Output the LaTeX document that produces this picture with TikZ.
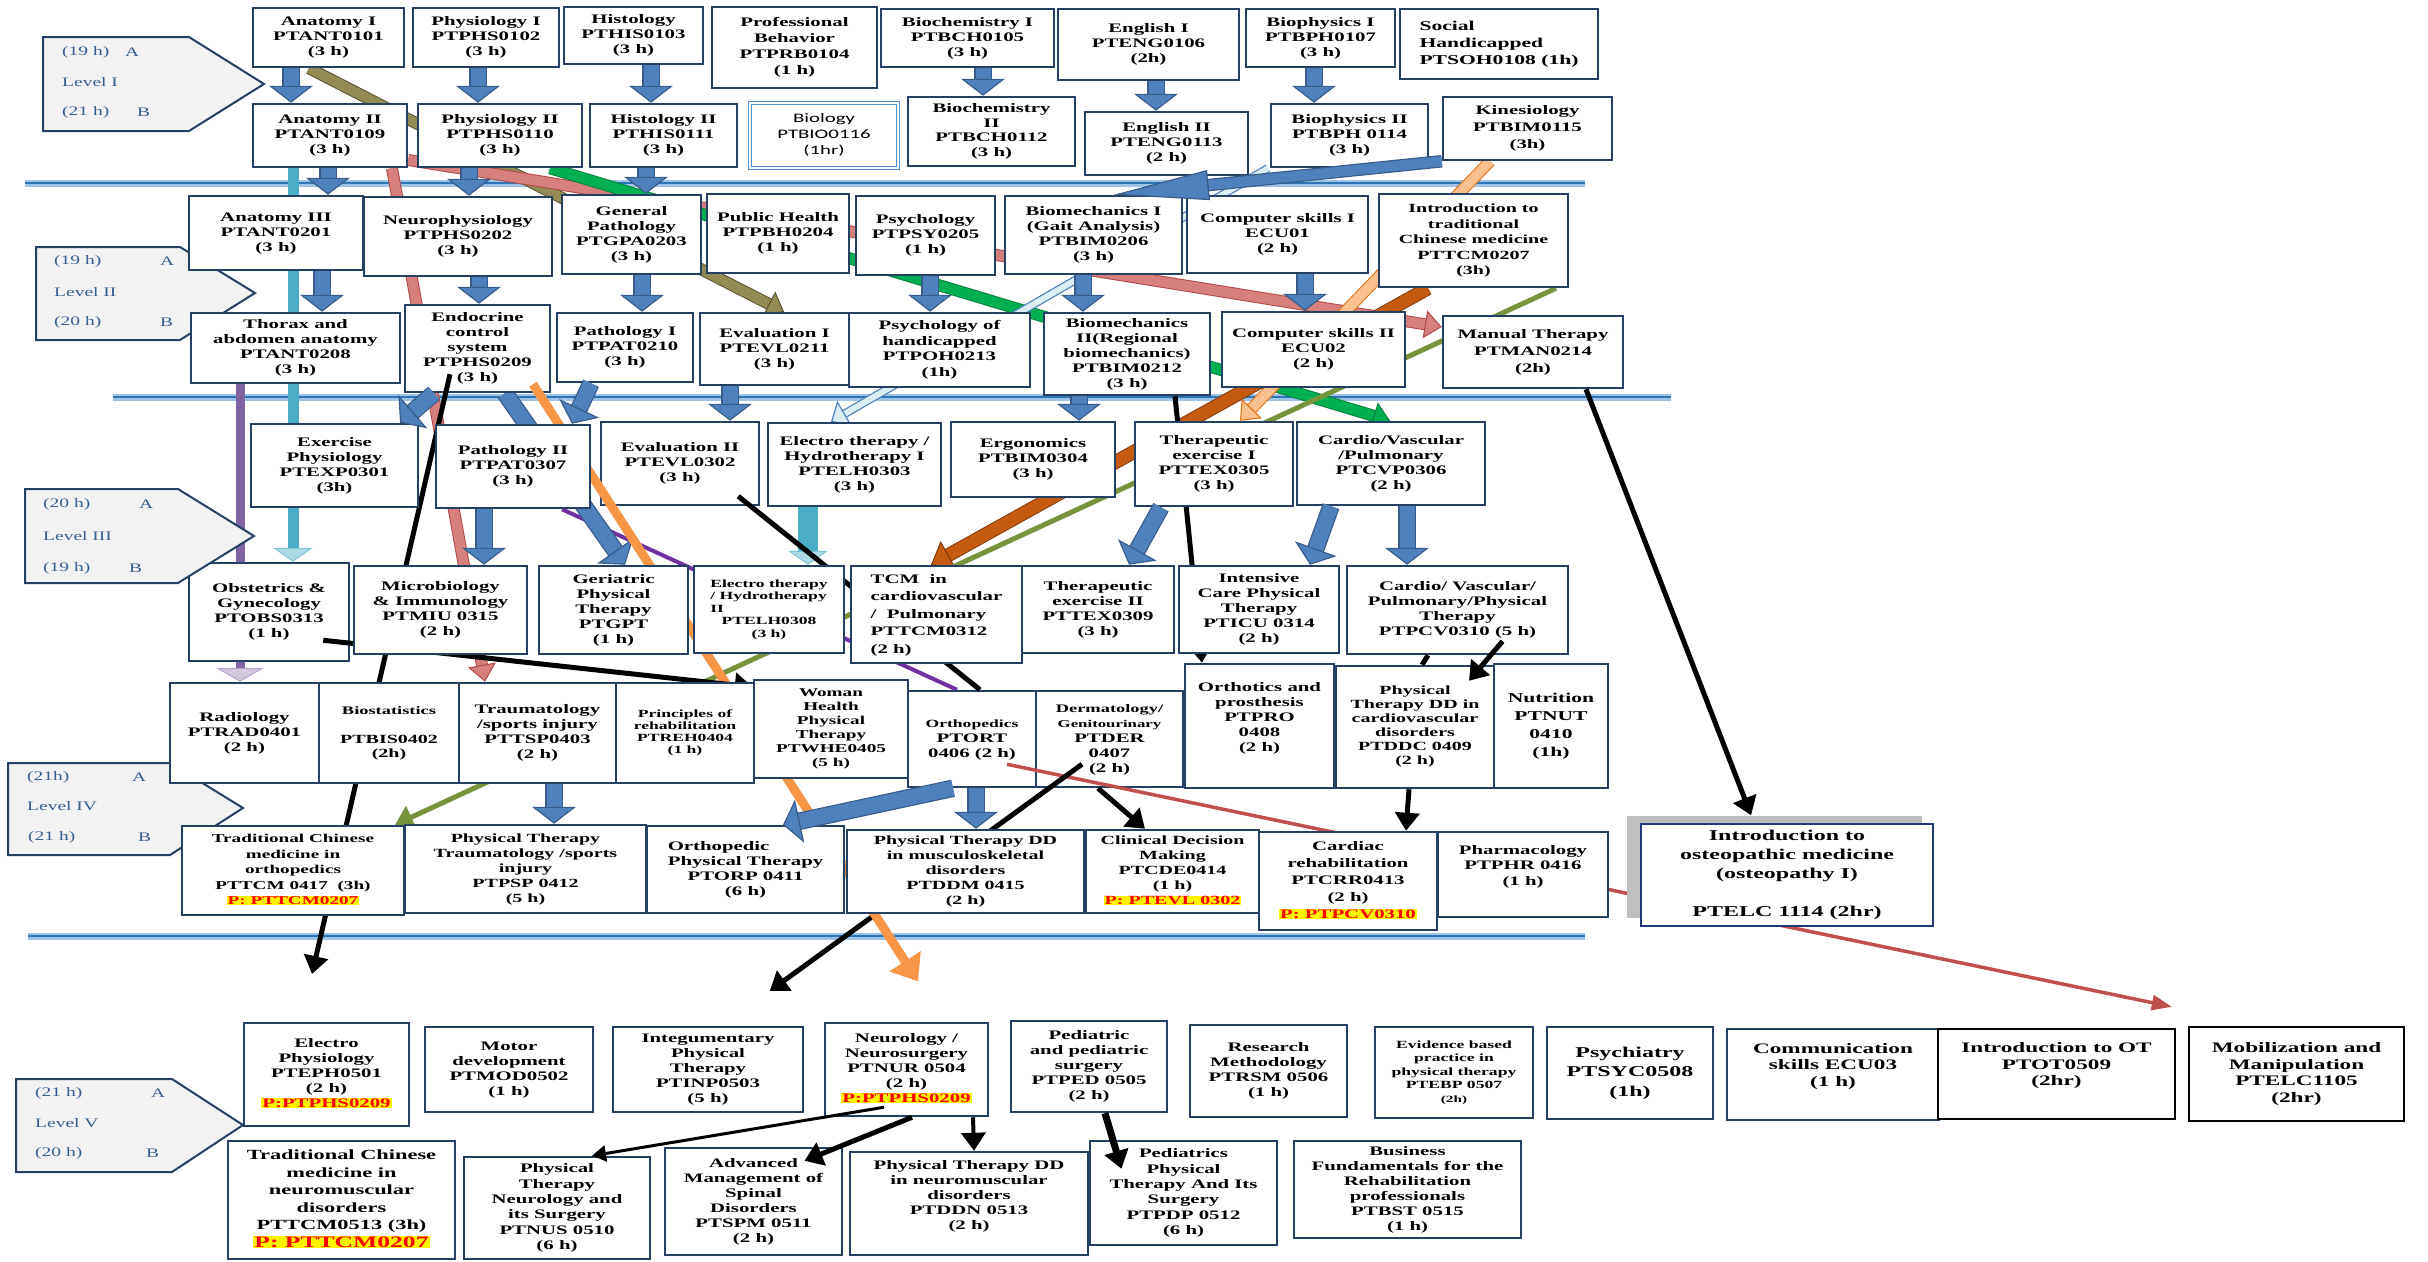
\documentclass[tikz,border=0pt]{standalone}
\usepackage{fontspec}
\setmainfont{Liberation Serif}
\newfontfamily\calibrifont{Carlito}
\usepackage{graphicx}
\usepackage{xcolor}
\usepackage{tikz}
\usetikzlibrary{arrows.meta}

\definecolor{boxline}{RGB}{36,64,98}
\definecolor{lvfill}{RGB}{242,242,242}
\definecolor{lvtext}{RGB}{54,95,145}
\definecolor{barblue}{RGB}{79,129,189}
\definecolor{barline}{RGB}{56,93,138}
\definecolor{seplight}{RGB}{157,195,230}
\definecolor{sepdark}{RGB}{46,117,182}
\definecolor{olivefill}{RGB}{148,138,84}
\definecolor{oliveline}{RGB}{90,84,50}
\definecolor{redfill}{RGB}{214,128,126}
\definecolor{redline}{RGB}{175,75,72}
\definecolor{greenfill}{RGB}{0,176,80}
\definecolor{greenline}{RGB}{0,130,60}
\definecolor{skyfill}{RGB}{219,238,244}
\definecolor{cyanfill}{RGB}{75,172,198}
\definecolor{purplefill}{RGB}{128,100,162}
\definecolor{violetline}{RGB}{112,48,160}
\definecolor{orangefill}{RGB}{247,150,70}
\definecolor{rustfill}{RGB}{197,90,17}
\definecolor{rustline}{RGB}{132,60,12}
\definecolor{peachfill}{RGB}{250,192,144}
\definecolor{peachline}{RGB}{228,108,10}
\definecolor{grass}{RGB}{119,147,60}
\definecolor{brick}{RGB}{192,80,77}
\definecolor{shadowgrey}{RGB}{191,191,191}
\definecolor{biolline}{RGB}{84,141,212}
\definecolor{osteoline}{RGB}{31,56,120}

\newcommand{\cfont}{\fontsize{13}{15}\selectfont\bfseries}
\newcommand{\wtext}[1]{\scalebox{1.6}[1]{\begin{tabular}{@{}c@{}}#1\end{tabular}}}
\newcommand{\wleft}[1]{\scalebox{1.6}[1]{\begin{tabular}{@{}l@{}}#1\end{tabular}}}
\newcommand{\wlabel}[1]{\scalebox{1.5}[1]{#1}}
\newcommand{\prq}[1]{{\setlength{\fboxsep}{0.6pt}\colorbox{yellow}{\textcolor{red}{#1}}}}

\tikzstyle{course} = [rectangle, draw=boxline, line width=2.5pt, fill=white, inner sep=0pt, font=\cfont]
\tikzstyle{leveltab} = [draw=boxline, line width=2pt, fill=lvfill]
\tikzstyle{lvtxt} = [inner sep=0pt, anchor=west, text=lvtext, font=\fontsize{13}{15}\selectfont]
\tikzstyle{sepline} = [draw=sepdark, line width=1.8pt, preaction={draw=seplight, line width=7pt}]
\tikzstyle{bluearrow} = [draw=barblue, line width=15pt, preaction={draw=barline, line width=17.5pt, arrows=-, shorten >=14pt}, -{Triangle[width=44pt, length=17pt, fill=barblue, color=barline, line width=1.2pt]}]
\tikzstyle{kinarrow} = [draw=barblue, line width=10pt, preaction={draw=barline, line width=12.5pt, arrows=-, shorten >=90pt}, -{Triangle[width=30pt, length=95pt, fill=barblue, color=barline, line width=1.2pt]}]
\tikzstyle{olivearrow} = [draw=olivefill, line width=10pt, preaction={draw=oliveline, line width=12pt, arrows=-, shorten >=14pt}, -{Triangle[width=28pt, length=17pt, fill=olivefill, color=oliveline, line width=1pt]}]
\tikzstyle{redarrow} = [draw=redfill, line width=10pt, preaction={draw=redline, line width=12pt, arrows=-, shorten >=14pt}, -{Triangle[width=28pt, length=17pt, fill=redfill, color=redline, line width=1pt]}]
\tikzstyle{greenarrow} = [draw=greenfill, line width=10pt, preaction={draw=greenline, line width=12pt, arrows=-, shorten >=14pt}, -{Triangle[width=28pt, length=17pt, fill=greenfill, color=greenline, line width=1pt]}]
\tikzstyle{rustarrow} = [draw=rustfill, line width=12pt, preaction={draw=rustline, line width=14pt, arrows=-, shorten >=17pt}, -{Triangle[width=32pt, length=20pt, fill=rustfill, color=rustline, line width=1pt]}]
\tikzstyle{peacharrow} = [draw=peachfill, line width=10pt, preaction={draw=peachline, line width=12pt, arrows=-, shorten >=14pt}, -{Triangle[width=28pt, length=17pt, fill=peachfill, color=peachline, line width=1pt]}]
\tikzstyle{skyarrow} = [draw=skyfill, line width=6pt, preaction={draw=barblue, line width=8.5pt, arrows=-, shorten >=13pt}, -{Triangle[width=30pt, length=16pt, fill=skyfill, color=barblue, line width=1.2pt]}]
\tikzstyle{cyanarrow} = [draw=cyanfill, line width=11pt, -{Triangle[width=40pt, length=14pt, fill=cyanfill!45, color=cyanfill!70, line width=1pt]}]
\tikzstyle{purplearrow} = [draw=purplefill, line width=9pt, -{Triangle[width=48pt, length=14pt, fill=purplefill!35, color=purplefill!60, line width=1pt]}]
\tikzstyle{purplelink} = [draw=violetline, line width=4pt]
\tikzstyle{orangearrow} = [draw=orangefill, line width=9pt, -{Triangle[width=36pt, length=24pt]}]
\tikzstyle{grassarrow} = [draw=grass, line width=5pt, -{Triangle[width=24pt, length=18pt]}]
\tikzstyle{brickarrow} = [draw=brick, line width=3.5pt, -{Triangle[width=15pt, length=20pt]}]
\tikzstyle{arrow} = [line width=5pt, -{Triangle[width=24pt, length=18pt]}]
\tikzstyle{thinarrow} = [line width=3pt, -{Triangle[width=16pt, length=14pt]}]
\tikzstyle{link} = [line width=5pt]

\pgfdeclarelayer{background}
\pgfdeclarelayer{back}
\pgfdeclarelayer{mid}
\pgfsetlayers{background,back,mid,main}

\begin{document}
\begin{tikzpicture}[x=1pt, y=-1pt]
\useasboundingbox (0,0) rectangle (2428,1261);

% level tabs
\draw [leveltab] (43,37) -- (189,37) -- (264,84) -- (189,131) -- (43,131) -- cycle;
\draw [leveltab] (36,247) -- (180,247) -- (255,293) -- (180,340) -- (36,340) -- cycle;
\draw [leveltab] (25,489) -- (178,489) -- (254,536) -- (178,583) -- (25,583) -- cycle;
\draw [leveltab] (8,763) -- (170,763) -- (243,808) -- (170,855) -- (8,855) -- cycle;
\draw [leveltab] (16,1079) -- (172,1079) -- (243,1125) -- (172,1172) -- (16,1172) -- cycle;

\node (lvIa) [lvtxt] at (62,52) {\wlabel{(19 h)}};
\node (lvIA) [lvtxt] at (125,52) {\wlabel{A}};
\node (lvI) [lvtxt] at (62,82) {\wlabel{Level I}};
\node (lvIb) [lvtxt] at (62,112) {\wlabel{(21 h)}};
\node (lvIB) [lvtxt] at (137,112) {\wlabel{B}};
\node (lvIIa) [lvtxt] at (54,261) {\wlabel{(19 h)}};
\node (lvIIA) [lvtxt] at (160,261) {\wlabel{A}};
\node (lvII) [lvtxt] at (54,292) {\wlabel{Level II}};
\node (lvIIb) [lvtxt] at (54,322) {\wlabel{(20 h)}};
\node (lvIIB) [lvtxt] at (160,322) {\wlabel{B}};
\node (lvIIIa) [lvtxt] at (43,504) {\wlabel{(20 h)}};
\node (lvIIIA) [lvtxt] at (139,504) {\wlabel{A}};
\node (lvIII) [lvtxt] at (43,536) {\wlabel{Level III}};
\node (lvIIIb) [lvtxt] at (43,568) {\wlabel{(19 h)}};
\node (lvIIIB) [lvtxt] at (129,568) {\wlabel{B}};
\node (lvIVa) [lvtxt] at (27,777) {\wlabel{(21h)}};
\node (lvIVA) [lvtxt] at (132,777) {\wlabel{A}};
\node (lvIV) [lvtxt] at (27,806) {\wlabel{Level IV}};
\node (lvIVb) [lvtxt] at (28,837) {\wlabel{(21 h)}};
\node (lvIVB) [lvtxt] at (138,837) {\wlabel{B}};
\node (lvVa) [lvtxt] at (35,1093) {\wlabel{(21 h)}};
\node (lvVA) [lvtxt] at (151,1093) {\wlabel{A}};
\node (lvV) [lvtxt] at (35,1123) {\wlabel{Level V}};
\node (lvVb) [lvtxt] at (35,1153) {\wlabel{(20 h)}};
\node (lvVB) [lvtxt] at (146,1153) {\wlabel{B}};

% level I
\node (anatI) [course, minimum width=151, minimum height=59] at (328.5,37.5) {\wtext{Anatomy I\\PTANT0101\\(3 h)}};
\node (physI) [course, minimum width=146, minimum height=59] at (486,37.5) {\wtext{Physiology I\\PTPHS0102\\(3 h)}};
\node (histI) [course, minimum width=139, minimum height=57] at (633.5,35.5) {\wtext{Histology\\PTHIS0103\\(3 h)}};
\node (profb) [course, minimum width=165, minimum height=81, font={\fontsize{13}{16}\selectfont\bfseries}] at (794.5,47.5) {\wtext{Professional\\Behavior\\PTPRB0104\\(1 h)}};
\node (biochI) [course, minimum width=173, minimum height=58] at (967.5,38) {\wtext{Biochemistry I\\PTBCH0105\\(3 h)}};
\node (engI) [course, minimum width=181, minimum height=71] at (1148.5,44.5) {\wtext{English I\\PTENG0106\\(2h)}};
\node (biophI) [course, minimum width=149, minimum height=58] at (1320.5,38) {\wtext{Biophysics I\\PTBPH0107\\(3 h)}};
\node (socH) [course, minimum width=198, minimum height=70, font={\fontsize{13.5}{17}\selectfont\bfseries}] at (1499,44) {\wleft{Social\\Handicapped\\PTSOH0108 (1h)}};

\node (anatII) [course, minimum width=154, minimum height=63] at (330,135.5) {\wtext{Anatomy II\\PTANT0109\\(3 h)}};
\node (physII) [course, minimum width=164, minimum height=63] at (500,135.5) {\wtext{Physiology II\\PTPHS0110\\(3 h)}};
\node (histII) [course, minimum width=147, minimum height=63] at (663.5,135.5) {\wtext{Histology II\\PTHIS0111\\(3 h)}};
\node (biol) [course, minimum width=148, minimum height=65, draw=biolline, line width=1.4pt, double=white, double distance=1.2pt, font={\calibrifont\fontsize{13}{16}\selectfont}] at (824,135.5) {\wtext{Biology\\PTBIO0116\\(1hr)}};
\node (biochII) [course, minimum width=167, minimum height=69, font={\fontsize{13}{14.5}\selectfont\bfseries}] at (991.5,131.5) {\wtext{Biochemistry\\II\\PTBCH0112\\(3 h)}};
\node (engII) [course, minimum width=163, minimum height=63] at (1166.5,143.5) {\wtext{English II\\PTENG0113\\(2 h)}};
\node (biophII) [course, minimum width=157, minimum height=63] at (1349.5,135.5) {\wtext{Biophysics II\\PTBPH 0114\\(3 h)}};
\node (kines) [course, minimum width=169, minimum height=63, font={\fontsize{13}{17}\selectfont\bfseries}] at (1527.5,128.5) {\wtext{Kinesiology\\PTBIM0115\\(3h)}};

% level II
\node (anatIII) [course, minimum width=174, minimum height=74] at (276,233) {\wtext{Anatomy III\\PTANT0201\\(3 h)}};
\node (neuro) [course, minimum width=188, minimum height=79] at (458,236.5) {\wtext{Neurophysiology\\PTPHS0202\\(3 h)}};
\node (genpath) [course, minimum width=139, minimum height=79] at (631.5,234.5) {\wtext{General\\Pathology\\PTGPA0203\\(3 h)}};
\node (pubh) [course, minimum width=142, minimum height=79] at (778,233.5) {\wtext{Public Health\\PTPBH0204\\(1 h)}};
\node (psych) [course, minimum width=139, minimum height=79] at (925.5,235.5) {\wtext{Psychology\\PTPSY0205\\(1 h)}};
\node (biomI) [course, minimum width=177, minimum height=78] at (1093.5,235) {\wtext{Biomechanics I\\(Gait Analysis)\\PTBIM0206\\(3 h)}};
\node (compI) [course, minimum width=181, minimum height=77] at (1277.5,234.5) {\wtext{Computer skills I\\ECU01\\(2 h)}};
\node (introTCM) [course, minimum width=189, minimum height=93, font={\fontsize{12.5}{15.5}\selectfont\bfseries}] at (1473.5,240.5) {\wtext{Introduction to\\traditional\\Chinese medicine\\PTTCM0207\\(3h)}};

\node (thorax) [course, minimum width=209, minimum height=70] at (295.5,348) {\wtext{Thorax and\\abdomen anatomy\\PTANT0208\\(3 h)}};
\begin{pgfonlayer}{back}
\node (endo) [course, minimum width=145, minimum height=87] at (477.5,348.5) {\wtext{Endocrine\\control\\system\\PTPHS0209\\(3 h)}};
\end{pgfonlayer}
\node (pathI) [course, minimum width=136, minimum height=69] at (625,347.5) {\wtext{Pathology I\\PTPAT0210\\(3 h)}};
\node (evalI) [course, minimum width=149, minimum height=72] at (774.5,349) {\wtext{Evaluation I\\PTEVL0211\\(3 h)}};
\node (psyhand) [course, minimum width=181, minimum height=74, font={\fontsize{13}{15.5}\selectfont\bfseries}] at (939.5,350) {\wtext{Psychology of\\handicapped\\PTPOH0213\\(1h)}};
\node (biomII) [course, minimum width=166, minimum height=82] at (1127,354) {\wtext{Biomechanics\\II(Regional\\biomechanics)\\PTBIM0212\\(3 h)}};
\node (compII) [course, minimum width=183, minimum height=75] at (1313.5,349.5) {\wtext{Computer skills II\\ECU02\\(2 h)}};
\node (manual) [course, minimum width=180, minimum height=72, font={\fontsize{13}{17}\selectfont\bfseries}] at (1533,352) {\wtext{Manual Therapy\\PTMAN0214\\(2h)}};

% level III
\node (exphys) [course, minimum width=167, minimum height=83] at (334.5,465.5) {\wtext{Exercise\\Physiology\\PTEXP0301\\(3h)}};
\node (pathII) [course, minimum width=154, minimum height=83] at (513,466.5) {\wtext{Pathology II\\PTPAT0307\\(3 h)}};
\begin{pgfonlayer}{back}
\node (evalII) [course, minimum width=158, minimum height=83] at (680,463.5) {\wtext{Evaluation II\\PTEVL0302\\(3 h)}};
\end{pgfonlayer}
\node (elecI) [course, minimum width=173, minimum height=83] at (854.5,464.5) {\wtext{Electro therapy /\\Hydrotherapy I\\PTELH0303\\(3 h)}};
\node (ergo) [course, minimum width=164, minimum height=75] at (1033,459.5) {\wtext{Ergonomics\\PTBIM0304\\(3 h)}};
\node (therI) [course, minimum width=158, minimum height=84] at (1214,464) {\wtext{Therapeutic\\exercise I\\PTTEX0305\\(3 h)}};
\node (cvp) [course, minimum width=188, minimum height=83] at (1391,463.5) {\wtext{Cardio/Vascular\\/Pulmonary\\PTCVP0306\\(2 h)}};

\begin{pgfonlayer}{back}
\node (obst) [course, minimum width=160, minimum height=98] at (269,612) {\wtext{Obstetrics \&\\Gynecology\\PTOBS0313\\(1 h)}};
\end{pgfonlayer}
\node (micro) [course, minimum width=173, minimum height=88] at (440.5,610) {\wtext{Microbiology\\\& Immunology\\PTMIU 0315\\(2 h)}};
\node (geri) [course, minimum width=149, minimum height=88] at (613.5,610) {\wtext{Geriatric\\Physical\\Therapy\\PTGPT\\(1 h)}};
\node (elecII) [course, minimum width=150, minimum height=87, font={\fontsize{11}{12.5}\selectfont\bfseries}] at (769,609.5) {\wtext{\begin{tabular}{@{}l@{}}Electro therapy\\/ Hydrotherapy\\II\end{tabular}\\PTELH0308\\(3 h)}};
\node (tcmcv) [course, minimum width=171, minimum height=97, font={\fontsize{13}{17.5}\selectfont\bfseries}] at (936.5,614.5) {\wleft{TCM~~in\\cardiovascular\\/~~Pulmonary\\PTTCM0312\\(2 h)}};
\node (therII) [course, minimum width=152, minimum height=87] at (1098,609.5) {\wtext{Therapeutic\\exercise II\\PTTEX0309\\(3 h)}};
\node (icu) [course, minimum width=160, minimum height=87] at (1259,609.5) {\wtext{Intensive\\Care Physical\\Therapy\\PTICU 0314\\(2 h)}};
\node (cvppt) [course, minimum width=221, minimum height=88] at (1457.5,610) {\wtext{Cardio/ Vascular/\\Pulmonary/Physical\\Therapy\\PTPCV0310 (5 h)}};

% level IV
\node (radio) [course, minimum width=149, minimum height=100] at (244.5,733) {\wtext{Radiology\\PTRAD0401\\(2 h)}};
\node (biost) [course, minimum width=140, minimum height=100, font={\fontsize{12.5}{14.5}\selectfont\bfseries}] at (389,733) {\wtext{{\fontsize{11.5}{14}\selectfont Biostatistics}\\~\\PTBIS0402\\(2h)}};
\node (traum) [course, minimum width=157, minimum height=100] at (537.5,733) {\wtext{Traumatology\\/sports injury\\PTTSP0403\\(2 h)}};
\node (princ) [course, minimum width=138, minimum height=100, font={\fontsize{11}{12}\selectfont\bfseries}] at (685,733) {\wtext{Principles of\\rehabilitation\\PTREH0404\\(1 h)}};
\node (woman) [course, minimum width=154, minimum height=98, font={\fontsize{12}{14}\selectfont\bfseries}] at (831,729) {\wtext{Woman\\Health\\Physical\\Therapy\\PTWHE0405\\(5 h)}};
\begin{pgfonlayer}{back}
\node (orthop) [course, minimum width=128, minimum height=96] at (972,739) {\wtext{{\fontsize{11}{14}\selectfont Orthopedics}\\PTORT\\0406 (2 h)}};
\node (derm) [course, minimum width=147, minimum height=96] at (1109.5,739) {\wtext{{\fontsize{11.5}{13}\selectfont Dermatology/}\\{\fontsize{10.5}{12}\selectfont Genitourinary}\\PTDER\\0407\\(2 h)}};
\end{pgfonlayer}
\node (orthot) [course, minimum width=149, minimum height=124] at (1259.5,726) {\wtext{Orthotics and\\prosthesis\\PTPRO\\0408\\(2 h)\\~}};
\node (ptddc) [course, minimum width=158, minimum height=122, font={\fontsize{12.5}{14}\selectfont\bfseries}] at (1415,727) {\wtext{Physical\\Therapy DD in\\cardiovascular\\disorders\\PTDDC 0409\\(2 h)}};
\node (nutr) [course, minimum width=114, minimum height=124, font={\fontsize{13.5}{18}\selectfont\bfseries}] at (1551,726) {\wtext{Nutrition\\PTNUT\\0410\\(1h)}};

% level V (first row)
\node (ephys) [course, minimum width=165, minimum height=103] at (326.5,1074.5) {\wtext{Electro\\Physiology\\PTEPH0501\\(2 h)\\\prq{P:PTPHS0209}}};
\node (motor) [course, minimum width=168, minimum height=85] at (509,1069.5) {\wtext{Motor\\development\\PTMOD0502\\(1 h)}};
\node (integ) [course, minimum width=190, minimum height=85] at (708,1069.5) {\wtext{Integumentary\\Physical\\Therapy\\PTINP0503\\(5 h)}};
\node (neurol) [course, minimum width=163, minimum height=93] at (906.5,1069.5) {\wtext{Neurology /\\Neurosurgery\\PTNUR 0504\\(2 h)\\\prq{P:PTPHS0209}}};
\node (pediat) [course, minimum width=156, minimum height=91] at (1089,1066.5) {\wtext{Pediatric\\and pediatric\\surgery\\PTPED 0505\\(2 h)}};
\node (research) [course, minimum width=157, minimum height=92] at (1268.5,1071) {\wtext{Research\\Methodology\\PTRSM 0506\\(1 h)}};
\node (evid) [course, minimum width=158, minimum height=91, font={\fontsize{11}{13.5}\selectfont\bfseries}] at (1454,1072.5) {\wtext{Evidence based\\practice in\\physical therapy\\PTEBP 0507\\{\fontsize{9.5}{12}\selectfont (2h)}}};
\node (psychi) [course, minimum width=166, minimum height=92, font={\fontsize{15}{19.5}\selectfont\bfseries}] at (1630,1073) {\wtext{Psychiatry\\PTSYC0508\\(1h)}};
\node (comm) [course, minimum width=212, minimum height=91, font={\fontsize{14.5}{16.5}\selectfont\bfseries}] at (1833,1074.5) {\wtext{Communication\\skills ECU03\\(1 h)\\~}};
\node (introOT) [course, minimum width=237, minimum height=90, draw=black, font={\fontsize{14.5}{16.5}\selectfont\bfseries}] at (2056.5,1074) {\wtext{Introduction to OT\\PTOT0509\\(2hr)\\~}};
\node (mobil) [course, minimum width=215, minimum height=94, draw=black, font={\fontsize{14.5}{16.5}\selectfont\bfseries}] at (2296.5,1074) {\wtext{Mobilization and\\Manipulation\\PTELC1105\\(2hr)}};

% connectors that run over their source box
\begin{pgfonlayer}{mid}
\draw [brickarrow] ([xshift=35pt,yshift=24pt]orthop.south) -- ([xshift=-16pt,yshift=19pt]mobil.north west);
\draw [arrow, shorten >=59pt] ([xshift=-27.5pt,yshift=24pt]derm.south) -- (integ.north -| 722,0);
\draw [arrow, shorten >=49pt] ([xshift=-27.5pt,yshift=19pt]endo.south) -- (ephys.north -| 301,0);
\draw [orangearrow, shorten >=48pt] ([xshift=55.5pt,yshift=9pt]endo.south) -- (neurol.north -| 944,0);
\draw [arrow] ([xshift=-27pt,yshift=22pt]obst.south east) -- (woman.west |- 0,687);
\draw [link] ([xshift=-22pt,yshift=10pt]evalII.south east) -- (orthop.north -| 980,0);
\end{pgfonlayer}

% level IV (second row)
\node (tcmortho) [course, minimum width=222, minimum height=89, font={\fontsize{12}{15.5}\selectfont\bfseries}] at (293,870.5) {\wtext{Traditional Chinese\\medicine in\\orthopedics\\PTTCM 0417~~(3h)\\\prq{P: PTTCM0207}}};
\node (ptsp) [course, minimum width=241, minimum height=88, font={\fontsize{12.5}{15}\selectfont\bfseries}] at (525.5,869) {\wtext{Physical Therapy\\Traumatology /sports\\injury\\PTPSP 0412\\(5 h)}};
\node (orp) [course, minimum width=197, minimum height=87] at (745.5,869.5) {\wtext{\begin{tabular}{@{}l@{}}Orthopedic\\Physical Therapy\end{tabular}\\PTORP 0411\\(6 h)}};
\node (ptddm) [course, minimum width=237, minimum height=83, font={\fontsize{12.5}{15}\selectfont\bfseries}] at (965.5,871.5) {\wtext{Physical Therapy DD\\in musculoskeletal\\disorders\\PTDDM 0415\\(2 h)}};
\node (cdm) [course, minimum width=173, minimum height=83, font={\fontsize{12.5}{15}\selectfont\bfseries}] at (1172.5,871.5) {\wtext{Clinical Decision\\Making\\PTCDE0414\\(1 h)\\\prq{P: PTEVL 0302}}};
\node (cardrehab) [course, minimum width=178, minimum height=98, font={\fontsize{13}{17}\selectfont\bfseries}] at (1348,881) {\wtext{Cardiac\\rehabilitation\\PTCRR0413\\(2 h)\\\prq{P: PTPCV0310}}};
\node (pharm) [course, minimum width=170, minimum height=85, font={\fontsize{13}{15.5}\selectfont\bfseries}] at (1523,874.5) {\wtext{Pharmacology\\PTPHR 0416\\(1 h)\\~}};
\fill [shadowgrey] (1627,816) rectangle (1922,918);
\node (osteo) [course, minimum width=292, minimum height=102, draw=osteoline, font={\fontsize{15}{19}\selectfont\bfseries}] at (1787,875) {\wtext{Introduction to\\osteopathic medicine\\(osteopathy I)\\~\\PTELC 1114 (2hr)}};

% level V (second row)
\node (tcmneuro) [course, minimum width=227, minimum height=118, font={\fontsize{14}{17.5}\selectfont\bfseries}] at (341.5,1200) {\wtext{Traditional Chinese\\medicine in\\neuromuscular\\disorders\\PTTCM0513 (3h)\\{\fontsize{16}{18}\selectfont\prq{P: PTTCM0207}}}};
\node (ptnus) [course, minimum width=186, minimum height=102, font={\fontsize{13}{15.3}\selectfont\bfseries}] at (557,1208) {\wtext{Physical\\Therapy\\Neurology and\\its Surgery\\PTNUS 0510\\(6 h)}};
\node (ptspm) [course, minimum width=177, minimum height=107] at (753.5,1201.5) {\wtext{Advanced\\Management of\\Spinal\\Disorders\\PTSPM 0511\\(2 h)}};
\node (ptddn) [course, minimum width=238, minimum height=103] at (969,1203.5) {\wtext{Physical Therapy DD\\in neuromuscular\\disorders\\PTDDN 0513\\(2 h)\\~}};
\node (ptpdp) [course, minimum width=187, minimum height=104, font={\fontsize{13}{15.3}\selectfont\bfseries}] at (1183.5,1193) {\wtext{Pediatrics\\Physical\\Therapy And Its\\Surgery\\PTPDP 0512\\(6 h)}};
\node (busin) [course, minimum width=227, minimum height=97] at (1407.5,1189.5) {\wtext{Business\\Fundamentals for the\\Rehabilitation\\professionals\\PTBST 0515\\(1 h)}};

% connectors behind the boxes
\begin{pgfonlayer}{background}
\draw [sepline] (25,183) -- (1585,183);
\draw [sepline] (113,397) -- (1671,397);
\draw [sepline] (28,936) -- (1585,936);
\draw [olivearrow] (anatI.south -| 309,0) -- (evalI.north -| 784,0);
\draw [redarrow] (anatII.south -| 392,0) -- (traum.north -| 485,0);
\draw [redarrow] (anatII.east |- 0,160) -- (manual.west |- 0,327);
\draw [greenarrow] (physII.south -| 550,0) -- (cvp.north -| 1390,0);
\draw [skyarrow] (biophII.south -| 1268,0) -- (elecI.north -| 831,0);
\draw [cyanarrow] (anatII.south -| 293,0) -- (obst.north -| 293,0);
\draw [cyanarrow, line width=20pt] (elecI.south -| 808,0) -- (elecII.north -| 808,0);
\draw [purplearrow] (thorax.south -| 240,0) -- (radio.north -| 240,0);
\draw [purplelink] (pathII.south -| 562,0) -- (orthop.north -| 957,0);
\draw [rustarrow] (introTCM.south -| 1428,0) -- (tcmcv.north -| 931,0);
\draw [peacharrow] (kines.south -| 1490,0) -- (therI.north -| 1240,0);
\draw [grassarrow] (introTCM.south -| 1556,0) -- (tcmortho.north -| 395,0);
\draw [bluearrow] (endo.south -| 505,0) -- (geri.north -| 625,0);
\draw [arrow] (biomII.south -| 1175,0) -- (orthot.north -| 1202,0);
\end{pgfonlayer}

% block arrows between boxes
\draw [bluearrow] (anatI.south -| 291,0) -- (anatII.north -| 291,0);
\draw [bluearrow] (physI.south -| 478,0) -- (physII.north -| 478,0);
\draw [bluearrow] (histI.south -| 651,0) -- (histII.north -| 651,0);
\draw [bluearrow] (biochI.south -| 983,0) -- (biochII.north -| 983,0);
\draw [bluearrow] (engI.south -| 1156,0) -- (engII.north -| 1156,0);
\draw [bluearrow] (biophI.south -| 1314,0) -- (biophII.north -| 1314,0);
\draw [bluearrow] (anatII.south -| 328,0) -- (anatIII.north -| 328,0);
\draw [bluearrow] (physII.south -| 469,0) -- (neuro.north -| 469,0);
\draw [bluearrow] (histII.south -| 646,0) -- (genpath.north -| 646,0);
\draw [bluearrow] (anatIII.south -| 322,0) -- (thorax.north -| 322,0);
\draw [bluearrow] (neuro.south -| 479,0) -- (endo.north -| 479,0);
\draw [bluearrow] (genpath.south -| 642,0) -- (pathI.north -| 642,0);
\draw [bluearrow] (psych.south -| 930,0) -- (psyhand.north -| 930,0);
\draw [bluearrow] (biomI.south -| 1083,0) -- (biomII.north -| 1083,0);
\draw [bluearrow] (compI.south -| 1305,0) -- (compII.north -| 1305,0);
\draw [bluearrow] (evalI.south -| 730,0) -- (evalII.north -| 730,0);
\draw [bluearrow] (biomII.south -| 1079,0) -- (ergo.north -| 1079,0);
\draw [bluearrow] (pathII.south -| 484,0) -- (micro.north -| 484,0);
\draw [bluearrow] (cvp.south -| 1407,0) -- (cvppt.north -| 1407,0);
\draw [bluearrow] (traum.south -| 554,0) -- (ptsp.north -| 554,0);
\draw [bluearrow] (orthop.south -| 976,0) -- (ptddm.north -| 976,0);
\draw [bluearrow] (endo.south -| 434,0) -- (exphys.north -| 400,0);
\draw [bluearrow] (pathI.south -| 591,0) -- (pathII.north -| 572,0);
\draw [bluearrow] (therI.south -| 1161,0) -- (therII.north -| 1129,0);
\draw [bluearrow] (cvp.south -| 1331,0) -- (icu.north -| 1310,0);
\draw [bluearrow] (orthop.south -| 953,0) -- (orp.north -| 783,0);
\draw [kinarrow] (kines.south west) -- (biomI.north -| 1114,0);

% short prerequisite arrows
\draw [link] (cvppt.south -| 1428,0) -- (ptddc.north -| 1422,0);
\draw [arrow] ([xshift=45pt,yshift=14pt]cvppt.south) -- ([xshift=54pt,yshift=-16pt]ptddc.north);
\draw [arrow] (ptddc.south -| 1409,0) -- (cardrehab.north -| 1406,0);
\draw [arrow] (derm.south -| 1098,0) -- (cdm.north -| 1145,0);
\draw [arrow, shorten >=8pt] (manual.south -| 1586,0) -- (osteo.north -| 1754,0);
\draw [thinarrow] ([xshift=-22.5pt,yshift=10pt]neurol.south) -- (ptnus.north -| 592,0);
\draw [arrow] (neurol.south -| 912,0) -- ([xshift=51pt,yshift=-14pt]ptspm.north);
\draw [arrow, line width=4pt] (neurol.south -| 973,0) -- (ptddn.north -| 974,0);
\draw [arrow, line width=7pt] (pediat.south -| 1105,0) -- ([xshift=-62pt,yshift=-29pt]ptpdp.north);

\end{tikzpicture}
\end{document}
